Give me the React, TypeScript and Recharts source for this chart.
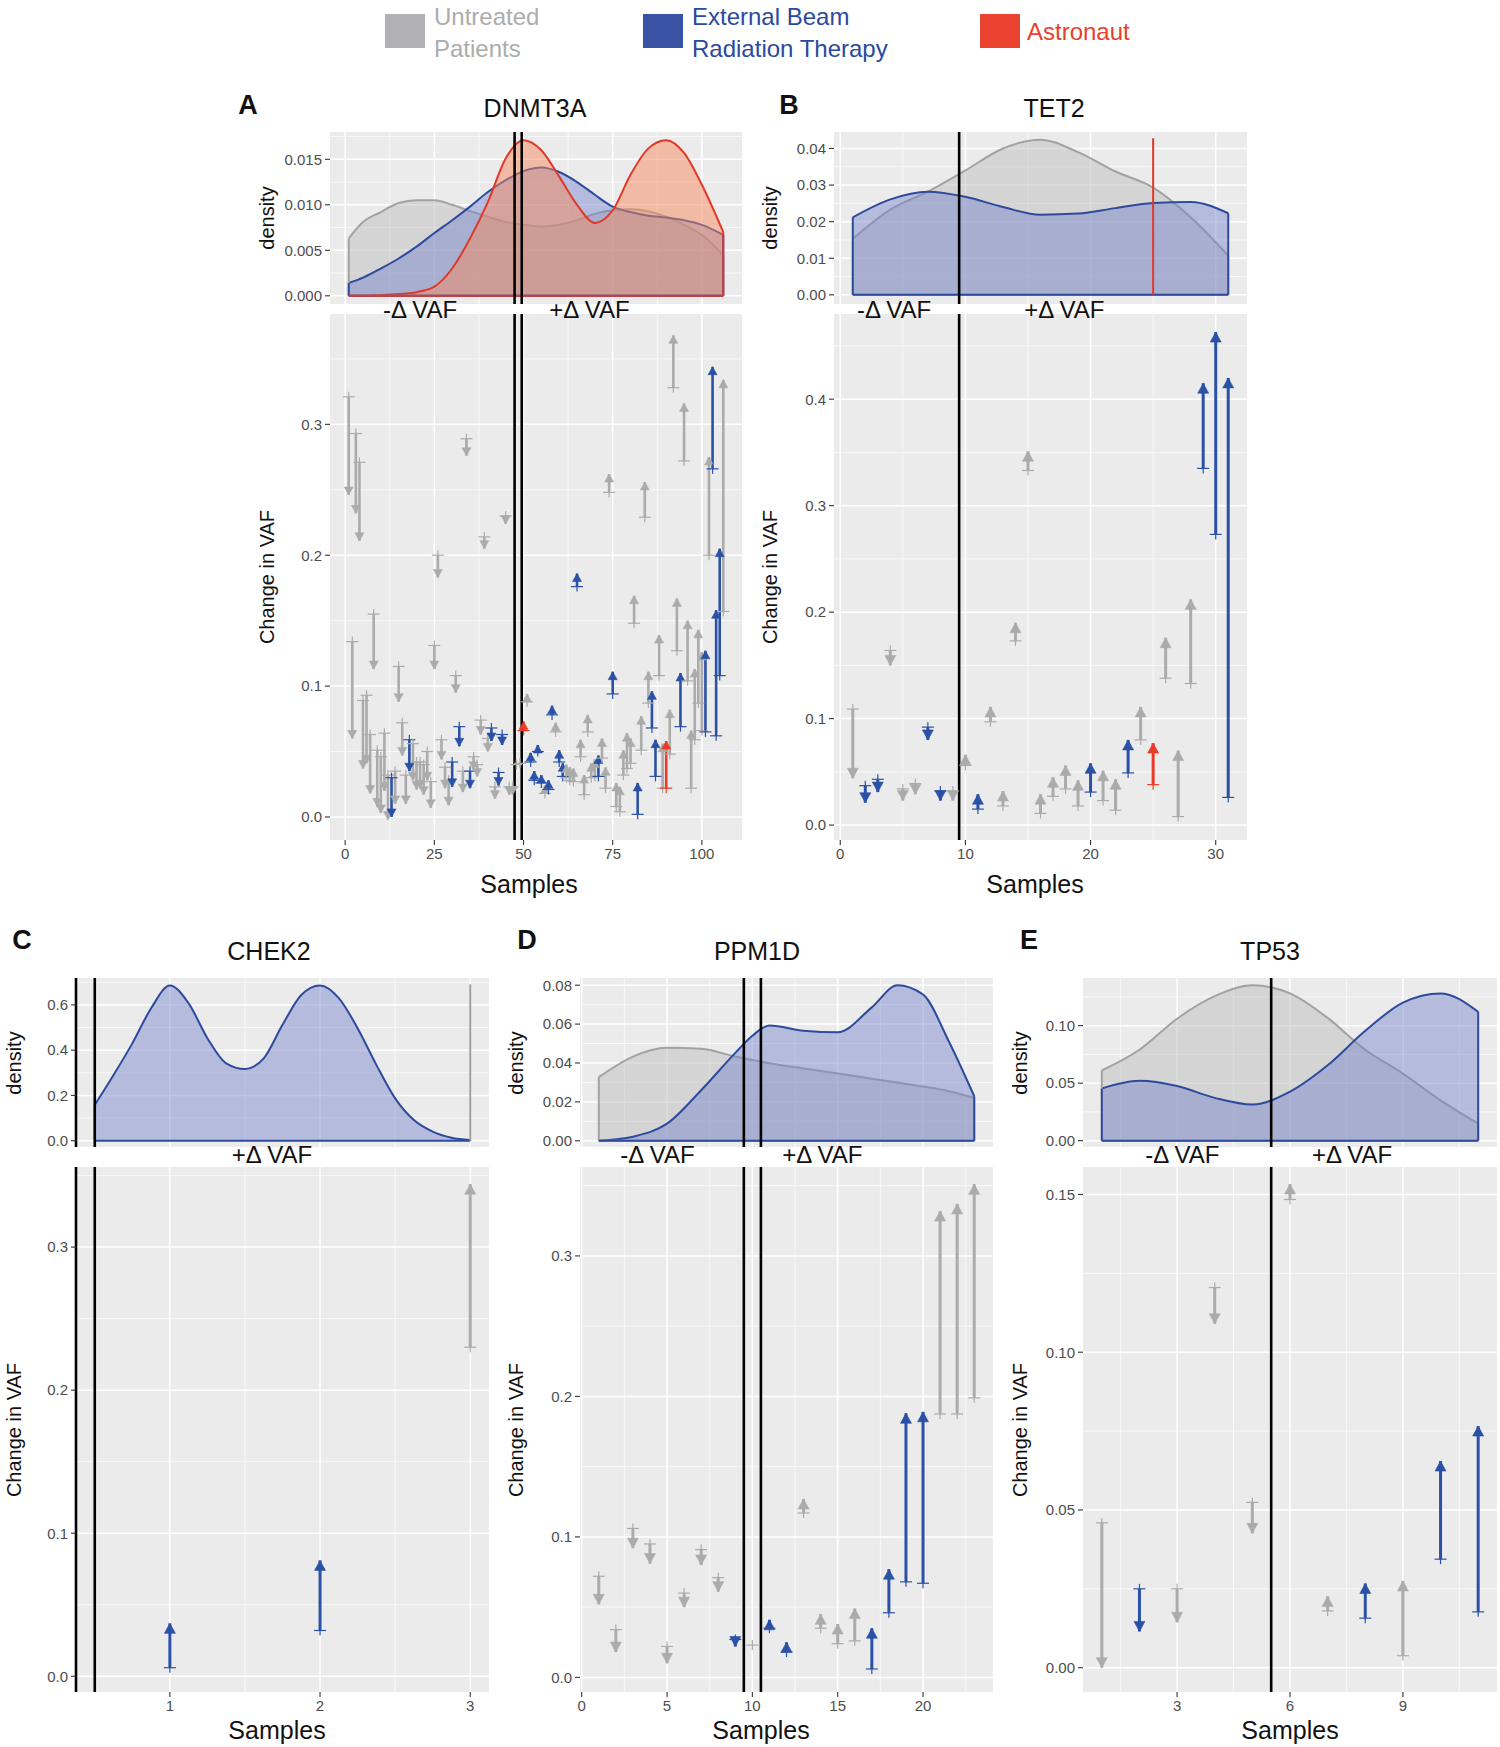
import React from 'react';
import { ComposedChart, Area, Line, XAxis, YAxis, CartesianGrid, ReferenceLine } from 'recharts';

// ---- DNMT3A (panel A) ----
const dnmt3aStart = [0.321, 0.134, 0.293, 0.271, 0.089, 0.093, 0.063, 0.155, 0.051, 0.046, 0.064, 0.032, 0.030, 0.035, 0.115, 0.072, 0.032, 0.059, 0.056, 0.042, 0.042, 0.040, 0.050, 0.027, 0.131, 0.200, 0.059, 0.038, 0.028, 0.042, 0.108, 0.069, 0.035, 0.289, 0.035, 0.046, 0.040, 0.074, 0.214, 0.060, 0.068, 0.023, 0.034, 0.063, 0.230, 0.023, 0.023, 0.040, 0.041, 0.066, 0.088, 0.042, 0.028, 0.050, 0.026, 0.018, 0.021, 0.078, 0.065, 0.042, 0.031, 0.030, 0.028, 0.027, 0.176, 0.046, 0.017, 0.065, 0.030, 0.031, 0.031, 0.045, 0.022, 0.248, 0.094, 0.008, 0.004, 0.032, 0.037, 0.041, 0.148, 0.002, 0.051, 0.229, 0.087, 0.068, 0.031, 0.108, 0.022, 0.022, 0.048, 0.328, 0.127, 0.069, 0.272, 0.104, 0.022, 0.059, 0.087, 0.066, 0.065, 0.200, 0.266, 0.062, 0.108, 0.157];
const dnmt3aEnd = [0.246, 0.060, 0.232, 0.211, 0.037, 0.041, 0.018, 0.113, 0.008, 0.003, 0.020, -0.002, 0.000, 0.010, 0.088, 0.047, 0.010, 0.035, 0.028, 0.021, 0.022, 0.017, 0.028, 0.007, 0.113, 0.183, 0.044, 0.022, 0.009, 0.023, 0.095, 0.054, 0.019, 0.276, 0.022, 0.036, 0.031, 0.063, 0.205, 0.050, 0.058, 0.014, 0.024, 0.055, 0.224, 0.017, 0.017, 0.040, 0.041, 0.073, 0.094, 0.049, 0.035, 0.055, 0.032, 0.024, 0.028, 0.085, 0.072, 0.051, 0.041, 0.040, 0.038, 0.037, 0.186, 0.059, 0.032, 0.078, 0.041, 0.044, 0.047, 0.060, 0.038, 0.262, 0.111, 0.026, 0.023, 0.051, 0.064, 0.060, 0.169, 0.026, 0.077, 0.256, 0.111, 0.096, 0.059, 0.139, 0.056, 0.058, 0.082, 0.368, 0.167, 0.110, 0.316, 0.150, 0.066, 0.113, 0.143, 0.126, 0.127, 0.275, 0.344, 0.158, 0.205, 0.334];
const dnmt3aGroup = [
  'U', 'U', 'U', 'U', 'U', 'U', 'U', 'U', 'U', 'U', 'U', 'U', 'E', 'U', 'U', 'U', 'U', 'E', 'U', 'U',
  'U', 'U', 'U', 'U', 'U', 'U', 'U', 'U', 'U', 'E', 'U', 'E', 'U', 'U', 'E', 'U', 'U', 'U', 'U', 'U',
  'E', 'U', 'E', 'E', 'U', 'U', 'U', 'U', 'U', 'A', 'U', 'E', 'E', 'E', 'E', 'U', 'E', 'E', 'U', 'E',
  'E', 'U', 'U', 'U', 'E', 'U', 'U', 'U', 'U', 'U', 'E', 'U', 'U', 'U', 'E', 'U', 'U', 'U', 'U', 'U',
  'U', 'E', 'U', 'U', 'U', 'E', 'E', 'U', 'U', 'A', 'U', 'U', 'U', 'E', 'U', 'U', 'U', 'U', 'U', 'U',
  'E', 'U', 'E', 'E', 'E', 'U',
];
const dnmt3aDensX = [1, 5, 10, 15, 20, 25, 30, 35, 40, 45, 50, 55, 60, 65, 70, 75, 80, 85, 90, 95, 100, 106];
const dnmt3aDensUntreated = [0.0063, 0.0081, 0.0092, 0.0102, 0.0105, 0.0105, 0.0100, 0.0093, 0.0087, 0.0081, 0.0078, 0.0076, 0.0078, 0.0083, 0.0090, 0.0094, 0.0095, 0.0093, 0.0087, 0.0078, 0.0067, 0.0045];
const dnmt3aDensEbrt = [0.0014, 0.0020, 0.0030, 0.0041, 0.0054, 0.0069, 0.0083, 0.0098, 0.0114, 0.0127, 0.0137, 0.0141, 0.0136, 0.0125, 0.0111, 0.0098, 0.0092, 0.0088, 0.0086, 0.0083, 0.0078, 0.0067];
const dnmt3aDensAstro = [0.0, 0.0, 0.0001, 0.0002, 0.0004, 0.0010, 0.0030, 0.0063, 0.0103, 0.0151, 0.0171, 0.0160, 0.0131, 0.0100, 0.0080, 0.0094, 0.0133, 0.0162, 0.0171, 0.0157, 0.0122, 0.0070];

// ---- TET2 (panel B) ----
const tet2Start = [0.109, 0.037, 0.043, 0.164, 0.034, 0.039, 0.092, 0.032, 0.032, 0.056, 0.015, 0.097, 0.018, 0.173, 0.333, 0.011, 0.027, 0.034, 0.018, 0.031, 0.023, 0.014, 0.049, 0.080, 0.038, 0.138, 0.008, 0.133, 0.335, 0.273, 0.026];
const tet2End = [0.044, 0.021, 0.031, 0.150, 0.023, 0.029, 0.080, 0.023, 0.023, 0.066, 0.029, 0.111, 0.032, 0.190, 0.351, 0.029, 0.045, 0.056, 0.042, 0.058, 0.051, 0.043, 0.080, 0.111, 0.077, 0.176, 0.070, 0.212, 0.415, 0.463, 0.420];
const tet2Group = ['U', 'E', 'E', 'U', 'U', 'U', 'E', 'E', 'U', 'U', 'E', 'U', 'U', 'U', 'U', 'U', 'U', 'U', 'U', 'E', 'U', 'U', 'E', 'U', 'A', 'U', 'U', 'U', 'E', 'E', 'E'];
const tet2DensX = [1, 4, 7, 10, 13, 16, 19, 22, 25, 28, 31];
const tet2DensUntreated = [0.0153, 0.0233, 0.0282, 0.0340, 0.0400, 0.0424, 0.0390, 0.0337, 0.0293, 0.0212, 0.0107];
const tet2DensEbrt = [0.0212, 0.0261, 0.0282, 0.0268, 0.0240, 0.0219, 0.0222, 0.0237, 0.0251, 0.0254, 0.0223];
const tet2AstroSample = 25;
const tet2AstroPeak = 0.0428;

// ---- CHEK2 (panel C) ----
const chek2Start = [0.006, 0.032, 0.230];
const chek2End = [0.037, 0.081, 0.344];
const chek2Group = ['E', 'E', 'U'];
const chek2DensX = [0.5, 0.625, 0.75, 0.875, 1, 1.125, 1.25, 1.375, 1.5, 1.625, 1.75, 1.875, 2, 2.125, 2.25, 2.375, 2.5, 2.625, 2.75, 2.875, 3];
const chek2DensEbrt = [0.158, 0.29, 0.43, 0.585, 0.686, 0.607, 0.453, 0.342, 0.317, 0.364, 0.512, 0.644, 0.686, 0.63, 0.497, 0.335, 0.187, 0.091, 0.04, 0.013, 0.003];
const chek2UntreatedSample = 3;
const chek2UntreatedPeak = 0.691;

// ---- PPM1D (panel D) ----
const ppm1dStart = [0.072, 0.034, 0.106, 0.095, 0.022, 0.060, 0.091, 0.071, 0.027, 0.023, 0.035, 0.018, 0.117, 0.035, 0.024, 0.026, 0.006, 0.046, 0.068, 0.067, 0.1875, 0.1875, 0.199];
const ppm1dEnd = [0.052, 0.018, 0.092, 0.081, 0.010, 0.050, 0.080, 0.061, 0.022, 0.023, 0.041, 0.025, 0.127, 0.045, 0.038, 0.049, 0.035, 0.077, 0.188, 0.189, 0.332, 0.337, 0.351];
const ppm1dGroup = ['U', 'U', 'U', 'U', 'U', 'U', 'U', 'U', 'E', 'U', 'E', 'E', 'U', 'U', 'U', 'U', 'E', 'E', 'E', 'E', 'U', 'U', 'U'];
const ppm1dDensX = [1, 3, 5, 7, 9, 10, 11, 13, 15, 17, 18.5, 20, 21.5, 23];
const ppm1dDensUntreated = [0.0327, 0.0433, 0.0478, 0.0473, 0.0433, 0.0415, 0.0399, 0.0372, 0.0346, 0.0319, 0.0300, 0.0279, 0.0255, 0.0221];
const ppm1dDensEbrt = [0.0, 0.0021, 0.0088, 0.0260, 0.0452, 0.0540, 0.0593, 0.0566, 0.0558, 0.0686, 0.0800, 0.0752, 0.0513, 0.0229];

// ---- TP53 (panel E) ----
const tp53Start = [0.0459, 0.025, 0.025, 0.1205, 0.0524, 0.1484, 0.018, 0.0157, 0.0038, 0.0344, 0.0177];
const tp53End = [0.0, 0.0115, 0.0144, 0.109, 0.0426, 0.1533, 0.0226, 0.0267, 0.0275, 0.0655, 0.0766];
const tp53Group = ['U', 'E', 'U', 'U', 'U', 'U', 'U', 'E', 'U', 'E', 'E'];
const tp53DensX = [1, 2, 3, 4, 5, 6, 7, 8, 9, 10, 11];
const tp53DensUntreated = [0.061, 0.079, 0.106, 0.1256, 0.135, 0.128, 0.1067, 0.079, 0.0583, 0.035, 0.0148];
const tp53DensEbrt = [0.0453, 0.052, 0.0475, 0.0372, 0.0314, 0.0426, 0.0655, 0.0955, 0.120, 0.128, 0.112];

const deltaLabels = ['-Δ VAF', '+Δ VAF'];

const FONT = "'Liberation Sans', Arial, sans-serif";
const ARROW_COLORS: Record<string, string> = { U: '#ababab', E: '#2a51a6', A: '#eb3a26' };
const DENS = {
  u: { fill: '#bdbdbd', stroke: '#a2a2a2', op: 0.5 },
  e: { fill: '#7080cc', stroke: '#2d4a9c', op: 0.45 },
  a: { fill: '#f58a5e', stroke: '#e0392a', op: 0.5 },
};

const L = 60;
const R = 4;
const T = 2;

type Geom = { x: number; y: number; w: number; h: number };

function Grid({ xMajor, xMinor, yMajor, yMinor }: any) {
  return [
    <CartesianGrid key="minor" fill="#ebebeb" fillOpacity={1} stroke="#ffffff" strokeWidth={0.7}
      horizontalValues={yMinor} verticalValues={xMinor} />,
    <CartesianGrid key="major" fill="none" stroke="#ffffff" strokeWidth={1.5}
      horizontalValues={yMajor} verticalValues={xMajor} />,
  ];
}

function arrowDot(color: string, headW: number, headL: number) {
  return (p: any) => {
    const { cx, cy, payload, index } = p;
    if (cx == null || cy == null) return <g key={`n${index}`} />;
    if (payload.tail) {
      return (
        <g key={`t${index}`}>
          <line x1={cx - 6} x2={cx + 6} y1={cy} y2={cy} stroke={color} strokeWidth={1.2} />
          <line x1={cx} x2={cx} y1={cy - 5} y2={cy + 5} stroke={color} strokeWidth={1.2} />
        </g>
      );
    }
    if (payload.dir === 0) return <g key={`z${index}`} />;
    const s = payload.dir > 0 ? 1 : -1;
    return (
      <polygon key={`h${index}`}
        points={`${cx},${cy} ${cx - headW / 2},${cy + headL * s} ${cx + headW / 2},${cy + headL * s}`}
        fill={color} stroke={color} strokeWidth={0.6} />
    );
  };
}

function ArrowChart(props: any) {
  const { geom, xDomain, yDomain, xTicks, xMinor, yTicks, yMinor, yDigits, seps, starts, ends, groups, leftLine, lineW, headW, headL } = props;
  const g: Geom = geom;
  const XH = 34;
  return (
    <div style={{ position: 'absolute', left: g.x - L, top: g.y - T }}>
      <ComposedChart width={g.w + L + R} height={g.h + T + XH} margin={{ top: T, right: R, bottom: 0, left: 0 }}>
        {Grid({ xMajor: xTicks, xMinor, yMajor: yTicks, yMinor })}
        <XAxis type="number" dataKey="s" domain={xDomain} ticks={xTicks} interval={0} allowDataOverflow
          height={XH} tickSize={5} tickMargin={3} axisLine={false}
          tickLine={{ stroke: '#333', strokeWidth: 1.1 }}
          tick={{ fill: '#4d4d4d', fontSize: 15, fontFamily: FONT }} />
        <YAxis type="number" domain={yDomain} ticks={yTicks} interval={0} allowDataOverflow width={L}
          tickSize={5} tickMargin={3}
          axisLine={leftLine ? { stroke: '#000', strokeWidth: 2.6 } : false}
          tickLine={{ stroke: '#333', strokeWidth: 1.1 }}
          tick={{ fill: '#4d4d4d', fontSize: 15, fontFamily: FONT }}
          tickFormatter={(v: number) => v.toFixed(yDigits)} />
        {starts.map((st: number, i: number) => {
          const dir = Math.sign(ends[i] - st);
          const color = ARROW_COLORS[groups[i]];
          const pts = [
            { s: i + 1, v: st, tail: true, dir },
            { s: i + 1, v: ends[i], tail: false, dir },
          ];
          return (
            <Line key={`a${i}`} data={pts} dataKey="v" type="linear" stroke={color} strokeWidth={lineW}
              dot={arrowDot(color, headW, headL)} activeDot={false} isAnimationActive={false} />
          );
        })}
        {seps.map((x: number) => (
          <ReferenceLine key={`s${x}`} x={x} stroke="#000" strokeWidth={2.6} />
        ))}
      </ComposedChart>
    </div>
  );
}

function DensityChart(props: any) {
  const { geom, xDomain, xMajor, xMinor, yDomain, yTicks, yMinor, yDigits, seps, densX, series, deltaTicks, deltaText, deltaDy, spikes, leftLine } = props;
  const g: Geom = geom;
  const XH = 30;
  const table = densX.map((x: number, i: number) => {
    const row: any = { x };
    series.forEach((sr: any) => { row[sr.key] = sr.values[i]; });
    return row;
  });
  const x0 = densX[0];
  const xn = densX[densX.length - 1];
  return (
    <div style={{ position: 'absolute', left: g.x - L, top: g.y - T }}>
      <ComposedChart data={table} width={g.w + L + R} height={g.h + T + XH} margin={{ top: T, right: R, bottom: 0, left: 0 }}>
        {Grid({ xMajor, xMinor, yMajor: yTicks, yMinor })}
        <XAxis type="number" dataKey="x" domain={xDomain} ticks={deltaTicks} interval={0} allowDataOverflow
          height={XH} tickSize={0} tickMargin={0} axisLine={false} tickLine={false}
          tick={(p: any) => (
            <text key={`d${p.index}`} x={p.x} y={p.y + deltaDy} textAnchor="middle" dominantBaseline="central"
              fontSize={24} fontFamily={FONT} fill="#111">
              {deltaText[deltaTicks.indexOf(p.payload.value)]}
            </text>
          )} />
        <YAxis type="number" domain={yDomain} ticks={yTicks} interval={0} allowDataOverflow width={L}
          tickSize={5} tickMargin={3}
          axisLine={leftLine ? { stroke: '#000', strokeWidth: 2.6 } : false}
          tickLine={{ stroke: '#333', strokeWidth: 1.1 }}
          tick={{ fill: '#4d4d4d', fontSize: 15, fontFamily: FONT }}
          tickFormatter={(v: number) => v.toFixed(yDigits)} />
        {series.map((sr: any) => (
          <Area key={sr.key} dataKey={sr.key} type="monotone" baseValue={0}
            fill={DENS[sr.key as 'u'].fill} fillOpacity={DENS[sr.key as 'u'].op}
            stroke={DENS[sr.key as 'u'].stroke} strokeWidth={2}
            dot={false} activeDot={false} isAnimationActive={false} />
        ))}
        {series.flatMap((sr: any) => {
          const c = DENS[sr.key as 'u'].stroke;
          const v0 = sr.values[0];
          const vn = sr.values[sr.values.length - 1];
          return [
            <ReferenceLine key={`${sr.key}l`} segment={[{ x: x0, y: 0 }, { x: x0, y: v0 }]} stroke={c} strokeWidth={2} />,
            <ReferenceLine key={`${sr.key}r`} segment={[{ x: xn, y: 0 }, { x: xn, y: vn }]} stroke={c} strokeWidth={2} />,
            <ReferenceLine key={`${sr.key}b`} segment={[{ x: x0, y: 0 }, { x: xn, y: 0 }]} stroke={c} strokeWidth={2} />,
          ];
        })}
        {(spikes || []).map((sp: any, i: number) => (
          <ReferenceLine key={`sp${i}`} segment={[{ x: sp.x, y: 0 }, { x: sp.x, y: sp.top }]}
            stroke={DENS[sp.key as 'u'].stroke} strokeWidth={2} />
        ))}
        {seps.map((x: number) => (
          <ReferenceLine key={`s${x}`} x={x} stroke="#000" strokeWidth={2.6} />
        ))}
      </ComposedChart>
    </div>
  );
}

function Txt({ x, y, size, children, bold, color, rotate }: any) {
  return (
    <div style={{
      position: 'absolute', left: x, top: y, whiteSpace: 'nowrap', fontSize: size,
      fontWeight: bold ? 700 : 400, color: color || '#111', lineHeight: 1,
      transform: `translate(-50%, -50%)${rotate ? ' rotate(-90deg)' : ''}`,
    }}>{children}</div>
  );
}

const ROW1 = { dy: 132, dh: 172, ay: 314, ah: 526 };
const ROW2 = { dy: 978, dh: 169, ay: 1167, ah: 525 };

function Panel(props: any) {
  const { x, w, row, letter, title, letterPos, titleX, yLabX, sampX, arrow, dens } = props;
  const isRow1 = row === ROW1;
  const sampY = isRow1 ? 884 : 1730;
  return (
    <>
      <ArrowChart geom={{ x, y: row.ay, w, h: row.ah }} {...arrow} />
      <DensityChart geom={{ x, y: row.dy, w, h: row.dh }} deltaDy={isRow1 ? 5 : 7} {...dens} />
      <Txt x={letterPos[0]} y={letterPos[1]} size={27} bold>{letter}</Txt>
      <Txt x={titleX} y={isRow1 ? 108 : 951} size={25}>{title}</Txt>
      <Txt x={yLabX} y={row.ay + row.ah / 2} size={20} rotate>Change in VAF</Txt>
      <Txt x={yLabX} y={row.dy + row.dh / 2} size={20} rotate>density</Txt>
      <Txt x={sampX} y={sampY} size={25}>Samples</Txt>
    </>
  );
}

function Legend() {
  const sq = (left: number, color: string) => (
    <div style={{ position: 'absolute', left, top: 14, width: 40, height: 34, background: color }} />
  );
  const two = (left: number, a: string, b: string, color: string) => (
    <div style={{ position: 'absolute', left, top: 1, fontSize: 24, lineHeight: '32px', color }}>
      {a}<br />{b}
    </div>
  );
  return (
    <>
      {sq(385, '#b1b0b2')}
      {two(434, 'Untreated', 'Patients', '#acacac')}
      {sq(643, '#3a52a3')}
      {two(692, 'External Beam', 'Radiation Therapy', '#2b4a9e')}
      {sq(980, '#ec4330')}
      <div style={{ position: 'absolute', left: 1027, top: 17, fontSize: 24, lineHeight: '30px', color: '#e8402a' }}>Astronaut</div>
    </>
  );
}

export default function App() {
  return (
    <div style={{ position: 'absolute', left: 0, top: 0, width: 1500, height: 1747, background: '#fff', fontFamily: FONT, overflow: 'hidden' }}>
      <Legend />
      <Panel x={330} w={412} row={ROW1} letter="A" title="DNMT3A" letterPos={[248, 105]} titleX={535} yLabX={267} sampX={529}
        arrow={{
          xDomain: [-4.25, 111.25], xTicks: [0, 25, 50, 75, 100], xMinor: [12.5, 37.5, 62.5, 87.5],
          yDomain: [-0.0176, 0.3843], yTicks: [0, 0.1, 0.2, 0.3], yMinor: [0.05, 0.15, 0.25, 0.35], yDigits: 1,
          seps: [47.5, 49.5], starts: dnmt3aStart, ends: dnmt3aEnd, groups: dnmt3aGroup, lineW: 2.6, headW: 9, headL: 8,
        }}
        dens={{
          xDomain: [-4.25, 111.25], xMajor: [0, 25, 50, 75, 100], xMinor: [12.5, 37.5, 62.5, 87.5],
          yDomain: [-0.0009, 0.018], yTicks: [0, 0.005, 0.01, 0.015], yMinor: [0.0025, 0.0075, 0.0125, 0.0175], yDigits: 3,
          seps: [47.5, 49.5], densX: dnmt3aDensX,
          series: [{ key: 'u', values: dnmt3aDensUntreated }, { key: 'e', values: dnmt3aDensEbrt }, { key: 'a', values: dnmt3aDensAstro }],
          deltaTicks: [21, 68.5], deltaText: deltaLabels,
        }} />
      <Panel x={834} w={413} row={ROW1} letter="B" title="TET2" letterPos={[789, 105]} titleX={1054} yLabX={770} sampX={1035}
        arrow={{
          xDomain: [-0.5, 32.5], xTicks: [0, 10, 20, 30], xMinor: [5, 15, 25],
          yDomain: [-0.014, 0.48], yTicks: [0, 0.1, 0.2, 0.3, 0.4], yMinor: [0.05, 0.15, 0.25, 0.35, 0.45], yDigits: 1,
          seps: [9.5], starts: tet2Start, ends: tet2End, groups: tet2Group, lineW: 3, headW: 11, headL: 10,
        }}
        dens={{
          xDomain: [-0.5, 32.5], xMajor: [0, 10, 20, 30], xMinor: [5, 15, 25],
          yDomain: [-0.0025, 0.0445], yTicks: [0, 0.01, 0.02, 0.03, 0.04], yMinor: [0.005, 0.015, 0.025, 0.035], yDigits: 2,
          seps: [9.5], densX: tet2DensX,
          series: [{ key: 'u', values: tet2DensUntreated }, { key: 'e', values: tet2DensEbrt }],
          spikes: [{ key: 'a', x: tet2AstroSample, top: tet2AstroPeak }],
          deltaTicks: [4.3, 17.9], deltaText: deltaLabels,
        }} />
      <Panel x={76} w={413} row={ROW2} letter="C" title="CHEK2" letterPos={[22, 940]} titleX={269} yLabX={14} sampX={277}
        arrow={{
          xDomain: [0.375, 3.125], xTicks: [1, 2, 3], xMinor: [0.5, 1.5, 2.5],
          yDomain: [-0.011, 0.356], yTicks: [0, 0.1, 0.2, 0.3], yMinor: [0.05, 0.15, 0.25, 0.35], yDigits: 1,
          seps: [0.5], starts: chek2Start, ends: chek2End, groups: chek2Group, lineW: 3, headW: 11, headL: 10, leftLine: true,
        }}
        dens={{
          xDomain: [0.375, 3.125], xMajor: [1, 2, 3], xMinor: [0.5, 1.5, 2.5],
          yDomain: [-0.028, 0.719], yTicks: [0, 0.2, 0.4, 0.6], yMinor: [0.1, 0.3, 0.5, 0.7], yDigits: 1,
          seps: [0.5], densX: chek2DensX, leftLine: true,
          series: [{ key: 'e', values: chek2DensEbrt }],
          spikes: [{ key: 'u', x: chek2UntreatedSample, top: chek2UntreatedPeak }],
          deltaTicks: [1.68], deltaText: [deltaLabels[1]],
        }} />
      <Panel x={580} w={413} row={ROW2} letter="D" title="PPM1D" letterPos={[527, 940]} titleX={757} yLabX={516} sampX={761}
        arrow={{
          xDomain: [-0.1, 24.1], xTicks: [0, 5, 10, 15, 20], xMinor: [2.5, 7.5, 12.5, 17.5, 22.5],
          yDomain: [-0.0104, 0.3633], yTicks: [0, 0.1, 0.2, 0.3], yMinor: [0.05, 0.15, 0.25, 0.35], yDigits: 1,
          seps: [9.5, 10.5], starts: ppm1dStart, ends: ppm1dEnd, groups: ppm1dGroup, lineW: 3, headW: 11, headL: 10,
        }}
        dens={{
          xDomain: [-0.1, 24.1], xMajor: [0, 5, 10, 15, 20], xMinor: [2.5, 7.5, 12.5, 17.5, 22.5],
          yDomain: [-0.0032, 0.0837], yTicks: [0, 0.02, 0.04, 0.06, 0.08], yMinor: [0.01, 0.03, 0.05, 0.07], yDigits: 2,
          seps: [9.5, 10.5], densX: ppm1dDensX,
          series: [{ key: 'u', values: ppm1dDensUntreated }, { key: 'e', values: ppm1dDensEbrt }],
          deltaTicks: [4.44, 14.1], deltaText: deltaLabels,
        }} />
      <Panel x={1083} w={414} row={ROW2} letter="E" title="TP53" letterPos={[1029, 940]} titleX={1270} yLabX={1020} sampX={1290}
        arrow={{
          xDomain: [0.5, 11.5], xTicks: [3, 6, 9], xMinor: [1.5, 4.5, 7.5, 10.5],
          yDomain: [-0.0077, 0.1587], yTicks: [0, 0.05, 0.1, 0.15], yMinor: [0.025, 0.075, 0.125], yDigits: 2,
          seps: [5.5], starts: tp53Start, ends: tp53End, groups: tp53Group, lineW: 3, headW: 11, headL: 10,
        }}
        dens={{
          xDomain: [0.5, 11.5], xMajor: [3, 6, 9], xMinor: [1.5, 4.5, 7.5, 10.5],
          yDomain: [-0.0055, 0.1414], yTicks: [0, 0.05, 0.1], yMinor: [0.025, 0.075, 0.125], yDigits: 2,
          seps: [5.5], densX: tp53DensX,
          series: [{ key: 'u', values: tp53DensUntreated }, { key: 'e', values: tp53DensEbrt }],
          deltaTicks: [3.14, 7.65], deltaText: deltaLabels,
        }} />
    </div>
  );
}
